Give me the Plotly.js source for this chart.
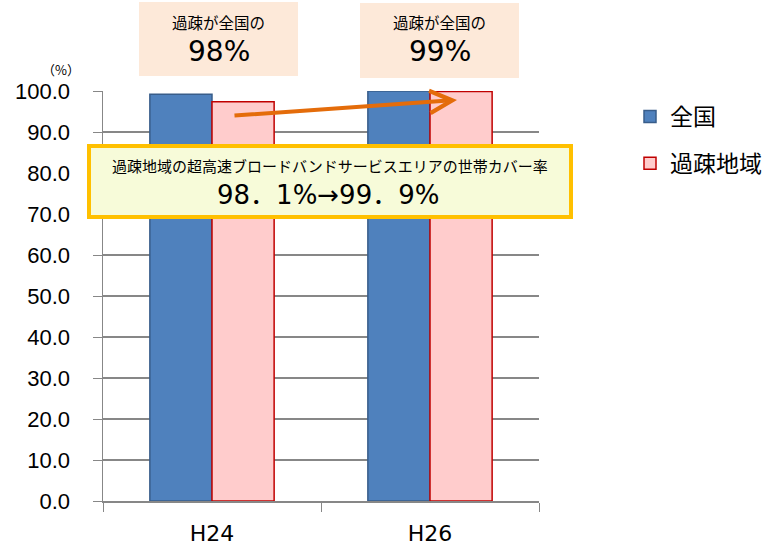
<!DOCTYPE html>
<html><head><meta charset="utf-8">
<script src="https://cdn.plot.ly/plotly-3.0.1.min.js"></script>
<style>body{margin:0;background:#fff}#c{width:774px;height:546px}</style>
</head><body><div id="c"></div>
<script>
const categories = ['H24', 'H26'];
const nationalValues = [99.2, 100.0];
const depopulatedValues = [97.4, 99.9];
const seriesNames = ['全国', '過疎地域'];
const yTickValues = [0, 10, 20, 30, 40, 50, 60, 70, 80, 90, 100];

const FONT = '"Liberation Sans", "Noto Sans CJK JP", Arial, sans-serif';
const WFONT = '"DejaVu Sans", "Noto Sans CJK JP", sans-serif';
const JFONT = '"Noto Sans CJK JP", "Liberation Sans", sans-serif';

const traces = [
  {type:'bar', name:seriesNames[0], x:categories, y:nationalValues, legendgroup:'a',
   marker:{color:'#4F81BD', line:{color:'#385D8A', width:1.5}}},
  {type:'bar', name:seriesNames[1], x:categories, y:depopulatedValues, legendgroup:'b',
   marker:{color:'#FFCCCC', line:{color:'#C00000', width:1.5}}}
];

const W = 436, H = 409.7, L = 103, B = 500.7;
const px = v => (v - L) / W;
const py = v => (B - v) / H;

const layout = {
  width:774, height:546,
  margin:{l:103, r:235, t:91, b:45.3, pad:0},
  paper_bgcolor:'#fff', plot_bgcolor:'#fff',
  font:{family:FONT, color:'#000'},
  barmode:'group', bargap:0.43, bargroupgap:0,
  showlegend:true,
  legend:{xref:'container', yref:'container', x:630/774, y:1 - 95/546, xanchor:'left', yanchor:'top',
          font:{size:23, family:JFONT}, traceorder:'grouped', tracegroupgap:14,
          bgcolor:'rgba(0,0,0,0)'},
  xaxis:{type:'category', tickson:'boundaries', ticks:'outside', ticklen:9, tickcolor:'#878787',
         showline:true, linecolor:'#878787', linewidth:1.5, showgrid:false,
         tickfont:{size:22, family:WFONT}, ticklabelstandoff:12},
  yaxis:{range:[0,100], tickvals:yTickValues, tickformat:'.1f', ticks:'outside', ticklen:9,
         tickcolor:'#878787', showline:true, linecolor:'#878787', linewidth:1.5,
         showgrid:true, gridcolor:'#878787', gridwidth:1.2, zeroline:false,
         tickfont:{size:22, family:FONT}, ticklabelstandoff:18},
  shapes:[
    {type:'rect', xref:'paper', yref:'paper', x0:px(139), x1:px(298), y0:py(76), y1:py(2),
     fillcolor:'#FDE9D9', line:{width:0}, layer:'above'},
    {type:'rect', xref:'paper', yref:'paper', x0:px(360), x1:px(519), y0:py(78), y1:py(3),
     fillcolor:'#FDE9D9', line:{width:0}, layer:'above'},
    {type:'rect', xref:'paper', yref:'paper', x0:px(89), x1:px(571), y0:py(217), y1:py(146),
     fillcolor:'#F7FBD9', line:{color:'#FFC000', width:4}, layer:'above'}
  ],
  annotations:[
    {xref:'paper', yref:'paper', x:px(218.5), y:py(22), text:'過疎が全国の', showarrow:false,
     font:{size:15.5, family:JFONT}, xanchor:'center', yanchor:'middle'},
    {xref:'paper', yref:'paper', x:px(218.5), y:py(52), text:'98%', showarrow:false,
     font:{size:28, family:WFONT}, xanchor:'center', yanchor:'middle'},
    {xref:'paper', yref:'paper', x:px(439.5), y:py(22), text:'過疎が全国の', showarrow:false,
     font:{size:15.5, family:JFONT}, xanchor:'center', yanchor:'middle'},
    {xref:'paper', yref:'paper', x:px(439.5), y:py(52), text:'99%', showarrow:false,
     font:{size:28, family:WFONT}, xanchor:'center', yanchor:'middle'},
    {xref:'paper', yref:'paper', x:px(329.5), y:py(165), text:'過疎地域の超高速ブロードバンドサービスエリアの世帯カバー率',
     showarrow:false, font:{size:15, family:JFONT}, xanchor:'center', yanchor:'middle'},
    {xref:'paper', yref:'paper', x:px(328), y:py(195), text:'98．1%→99．9%', showarrow:false,
     font:{size:26, family:WFONT}, xanchor:'center', yanchor:'middle'},
    {xref:'paper', yref:'paper', x:px(61), y:py(70), text:'（%）', showarrow:false,
     font:{size:13, family:JFONT}, xanchor:'center', yanchor:'middle'},
    {xref:'paper', yref:'paper', x:px(457), y:py(100), ax:-224, ay:15.6, text:'', showarrow:true,
     arrowcolor:'#E46C0A', arrowwidth:4, arrowhead:5, arrowsize:1.1, standoff:0, startstandoff:0}
  ]
};

Plotly.newPlot('c', traces, layout, {displayModeBar:false, staticPlot:true});
</script>
</body></html>
